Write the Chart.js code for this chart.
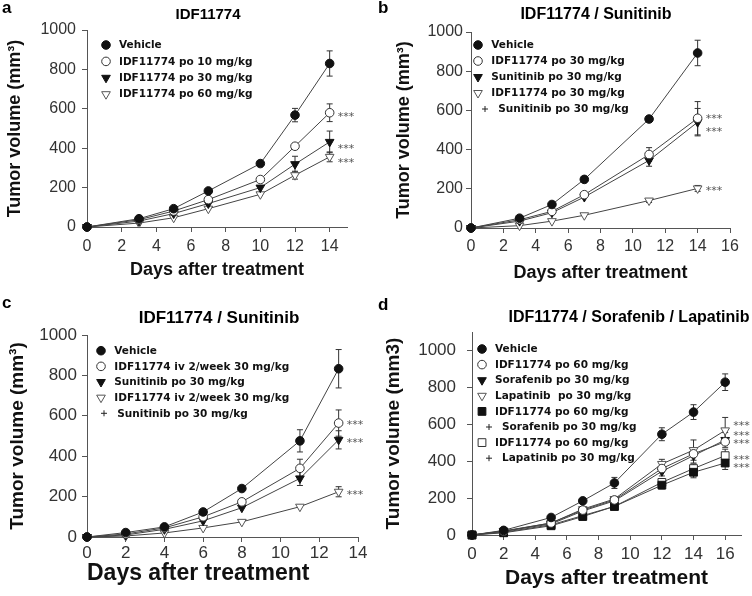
<!DOCTYPE html>
<html>
<head>
<meta charset="utf-8">
<script src="https://cdn.jsdelivr.net/npm/chart.js@4.4.1/dist/chart.umd.min.js"></script>
<style>
  body { margin: 0; background: #fff; }
  #grid { position: relative; width: 752px; height: 596px; }
  .panel { position: absolute; width: 376px; height: 298px; }
</style>
</head>
<body>
<div id="grid">
  <div class="panel" style="left:0;top:0"><canvas id="pa" width="376" height="298"></canvas></div>
  <div class="panel" style="left:376px;top:0"><canvas id="pb" width="376" height="298"></canvas></div>
  <div class="panel" style="left:0;top:298px"><canvas id="pc" width="376" height="298"></canvas></div>
  <div class="panel" style="left:376px;top:298px"><canvas id="pd" width="376" height="298"></canvas></div>
</div>
<script>
// ---- panel a: IDF11774 ----
const daysA = [0, 3, 5, 7, 10, 12, 14];
const vehicleA = [0, 42, 93, 183, 322, 568, 830];
const idf10A = [0, 37, 81, 139, 241, 410, 580];
const idf30A = [0, 30, 68, 119, 200, 319, 432];
const idf60A = [0, 20, 47, 93, 166, 263, 356];
const vehicleErrA = [0, 0, 0, 0, 0, 34, 64];
const idf10ErrA = [0, 0, 0, 0, 0, 0, 45];
const idf30ErrA = [0, 0, 0, 0, 0, 40, 55];
const idf60ErrA = [0, 0, 0, 0, 0, 20, 25];
const legendA = ['Vehicle', 'IDF11774 po 10 mg/kg', 'IDF11774 po 30 mg/kg', 'IDF11774 po 60 mg/kg'];
const starsA = [576, 412, 342];

// ---- panel b: IDF11774 / Sunitinib ----
const daysB = [0, 3, 5, 7, 11, 14];
const vehicleB = [0, 50, 120, 248, 556, 893];
const idfPoB = [0, 42, 85, 170, 375, 560];
const sunitinibB = [0, 35, 78, 158, 345, 540];
const comboB = [0, 12, 35, 65, 140, 202];
const vehicleErrB = [0, 0, 0, 0, 0, 65];
const idfPoErrB = [0, 0, 0, 0, 35, 85];
const sunitinibErrB = [0, 0, 0, 0, 30, 70];
const comboErrB = [0, 0, 0, 0, 10, 15];
const legendB = ['Vehicle', 'IDF11774 po 30 mg/kg', 'Sunitinib po 30 mg/kg', 'IDF11774 po 30 mg/kg', 'Sunitinib po 30 mg/kg'];
const starsB = [572, 508, 205];

// ---- panel c: IDF11774 iv / Sunitinib ----
const daysC = [0, 2, 4, 6, 8, 11, 13];
const vehicleC = [0, 22, 50, 124, 240, 476, 833];
const idfIvC = [0, 15, 45, 100, 174, 340, 564];
const sunitinibC = [0, 10, 38, 80, 145, 290, 481];
const comboC = [0, 5, 20, 45, 75, 150, 224];
const vehicleErrC = [0, 0, 0, 0, 0, 55, 95];
const idfIvErrC = [0, 0, 0, 0, 0, 45, 65];
const sunitinibErrC = [0, 0, 0, 0, 0, 35, 45];
const comboErrC = [0, 0, 0, 0, 0, 0, 25];
const legendC = ['Vehicle', 'IDF11774 iv 2/week 30 mg/kg', 'Sunitinib po 30 mg/kg', 'IDF11774 iv 2/week 30 mg/kg', 'Sunitinib po 30 mg/kg'];
const starsC = [572, 481, 224];

// ---- panel d: IDF11774 / Sorafenib / Lapatinib ----
const daysD = [0, 2, 5, 7, 9, 12, 14, 16];
const vehicleD = [0, 25, 95, 185, 282, 546, 666, 828];
const idf60D = [0, 20, 65, 135, 190, 360, 440, 505];
const sorafenibD = [0, 20, 60, 130, 185, 345, 430, 515];
const lapatinibD = [0, 22, 65, 140, 195, 385, 460, 567];
const idfSorD = [0, 12, 50, 100, 155, 270, 340, 390];
const idfLapD = [0, 15, 55, 105, 155, 285, 360, 430];
const vehicleErrD = [0, 0, 0, 0, 30, 35, 40, 45];
const idf60ErrD = [0, 0, 0, 0, 0, 0, 0, 0];
const sorafenibErrD = [0, 0, 0, 0, 0, 25, 40, 40];
const lapatinibErrD = [0, 0, 0, 0, 0, 25, 55, 70];
const idfSorErrD = [0, 0, 0, 0, 0, 20, 30, 35];
const idfLapErrD = [0, 0, 0, 0, 0, 20, 25, 35];
const legendD = ['Vehicle', 'IDF11774 po 60 mg/kg', 'Sorafenib po 30 mg/kg', 'Lapatinib  po 30 mg/kg', 'IDF11774 po 60 mg/kg',
                 'Sorafenib po 30 mg/kg', 'IDF11774 po 60 mg/kg', 'Lapatinib po 30 mg/kg'];
const starsD = [612, 558, 513, 427, 382];

const FONT = "'Liberation Sans', Arial, sans-serif";
const LEGEND_FONT = "bold 10.5px 'DejaVu Sans', Verdana, sans-serif";

// marker looks
const styles = {
  dot:     { pointStyle: 'circle',   radius: 4.3, rotation: 0,   fill: '#111', stroke: '#111' },
  ring:    { pointStyle: 'circle',   radius: 4.3, rotation: 0,   fill: '#fff', stroke: '#333' },
  triDown: { pointStyle: 'triangle', radius: 5,   rotation: 180, fill: '#111', stroke: '#111' },
  triOpen: { pointStyle: 'triangle', radius: 5,   rotation: 180, fill: '#fff', stroke: '#555' },
  square:  { pointStyle: 'rect',     radius: 5.5, rotation: 0,   fill: '#111', stroke: '#111' },
  box:     { pointStyle: 'rect',     radius: 5.5, rotation: 0,   fill: '#fff', stroke: '#333' },
  plus:    { pointStyle: 'cross',    radius: 3,   rotation: 0,   fill: '#222', stroke: '#222' }
};

const panels = [
  {
    id: 'pa', letter: 'a', title: 'IDF11774', titleSize: 15, titleX: 208, titleY: 15, letterY: 13,
    days: daysA, series: [vehicleA, idf10A, idf30A, idf60A],
    errs: [vehicleErrA, idf10ErrA, idf30ErrA, idf60ErrA],
    markers: ['dot', 'ring', 'triDown', 'triOpen'],
    legend: legendA, legendMarkers: ['dot', 'ring', 'triDown', 'triOpen'],
    stars: starsA,
    area: { L: 87, R: 347, T: 30, B: 227 }, xmax: 15, ymax: 1000,
    yTitle: 'Tumor volume (mm\u00b3)', yTitleSize: 18, yTitlePad: 4,
    xTitleSize: 18, xTitlePad: 17, xTitleAlign: 'center',
    tickSize: 16, yTickPad: 6, xTickPad: 5,
    leg: { dx: 19, dy: 15, row: 16.4, gap: 13, plusIndent: 0 }
  },
  {
    id: 'pb', letter: 'b', title: 'IDF11774 / Sunitinib', titleSize: 16, titleX: 220, titleY: 15, letterY: 13,
    days: daysB, series: [vehicleB, idfPoB, sunitinibB, comboB],
    errs: [vehicleErrB, idfPoErrB, sunitinibErrB, comboErrB],
    markers: ['dot', 'ring', 'triDown', 'triOpen'],
    legend: legendB, legendMarkers: ['dot', 'ring', 'triDown', 'triOpen', 'plus'],
    stars: starsB,
    area: { L: 95, R: 354, T: 32, B: 228 }, xmax: 16, ymax: 1000,
    yTitle: 'Tumor volume (mm\u00b3)', yTitleSize: 18, yTitlePad: 17.7,
    xTitleSize: 18, xTitlePad: 14, xTitleAlign: 'center',
    tickSize: 16, yTickPad: 3, xTickPad: 4,
    leg: { dx: 7, dy: 13, row: 16, gap: 13.3, plusIndent: 7 }
  },
  {
    id: 'pc', letter: 'c', title: 'IDF11774 / Sunitinib', titleSize: 17, titleX: 219, titleY: 20, letterY: 10,
    days: daysC, series: [vehicleC, idfIvC, sunitinibC, comboC],
    errs: [vehicleErrC, idfIvErrC, sunitinibErrC, comboErrC],
    markers: ['dot', 'ring', 'triDown', 'triOpen'],
    legend: legendC, legendMarkers: ['dot', 'ring', 'triDown', 'triOpen', 'plus'],
    stars: starsC,
    area: { L: 87, R: 358, T: 37, B: 239 }, xmax: 14, ymax: 1000,
    yTitle: 'Tumor volume (mm\u00b3)', yTitleSize: 19, yTitlePad: 6,
    xTitleSize: 23, xTitlePad: 9, xTitleAlign: 'start',
    tickSize: 17, yTickPad: 5, xTickPad: 1,
    leg: { dx: 14, dy: 15.7, row: 15.65, gap: 13.3, plusIndent: 3 }
  },
  {
    id: 'pd', letter: 'd', title: 'IDF11774 / Sorafenib / Lapatinib', titleSize: 16, titleX: 253, titleY: 20, letterY: 12,
    days: daysD, series: [vehicleD, idf60D, sorafenibD, lapatinibD, idfSorD, idfLapD],
    errs: [vehicleErrD, idf60ErrD, sorafenibErrD, lapatinibErrD, idfSorErrD, idfLapErrD],
    markers: ['dot', 'ring', 'triDown', 'triOpen', 'square', 'box'],
    legend: legendD, legendMarkers: ['dot', 'ring', 'triDown', 'triOpen', 'square', 'plus', 'box', 'plus'],
    stars: starsD,
    area: { L: 96, R: 365, T: 34, B: 237 }, xmax: 17, ymax: 1100,
    yTitle: 'Tumor volume (mm3)', yTitleSize: 19, yTitlePad: 6,
    xTitleSize: 21, xTitlePad: 5, xTitleAlign: 'center',
    tickSize: 17, yTickPad: 11, xTickPad: 4,
    leg: { dx: 10, dy: 17, row: 15.6, gap: 13, plusIndent: 7 }
  }
];

function drawMarker(ctx, st, x, y) {
  ctx.fillStyle = st.fill;
  ctx.strokeStyle = st.stroke;
  ctx.lineWidth = 1;
  Chart.helpers.drawPoint(ctx, { pointStyle: st.pointStyle, radius: st.radius, rotation: st.rotation, borderWidth: 1 }, x, y);
}

// letter, title, in-plot legend, error bars and significance stars
function makeDecor(p) {
  return {
    id: 'decor',
    beforeDatasetsDraw(chart) {
      const { ctx, scales: { x, y } } = chart;
      ctx.save();
      ctx.strokeStyle = '#333';
      ctx.lineWidth = 1;
      chart.data.datasets.forEach(ds => {
        ds.data.forEach((pt, j) => {
          const e = ds.errors[j];
          if (!e) return;
          const px = x.getPixelForValue(pt.x);
          const top = y.getPixelForValue(pt.y + e);
          const bot = y.getPixelForValue(pt.y - e);
          ctx.beginPath();
          ctx.moveTo(px, top); ctx.lineTo(px, bot);
          ctx.moveTo(px - 3, top); ctx.lineTo(px + 3, top);
          ctx.moveTo(px - 3, bot); ctx.lineTo(px + 3, bot);
          ctx.stroke();
        });
      });
      ctx.restore();
    },
    afterDraw(chart) {
      const { ctx, chartArea: area, scales: { x, y } } = chart;
      ctx.save();
      // panel letter
      ctx.fillStyle = '#000';
      ctx.font = 'bold 17px ' + FONT;
      ctx.textAlign = 'left';
      ctx.textBaseline = 'alphabetic';
      ctx.fillText(p.letter, 2, p.letterY);
      // title
      ctx.font = 'bold ' + p.titleSize + 'px ' + FONT;
      ctx.textAlign = 'center';
      ctx.textBaseline = 'middle';
      ctx.fillText(p.title, p.titleX, p.titleY);
      // legend
      ctx.font = LEGEND_FONT;
      ctx.textAlign = 'left';
      p.legend.forEach((txt, i) => {
        const key = p.legendMarkers[i];
        const ind = key === 'plus' ? p.leg.plusIndent : 0;
        const lx = area.left + p.leg.dx + ind;
        const ly = area.top + p.leg.dy + i * p.leg.row;
        drawMarker(ctx, styles[key], lx, ly);
        ctx.fillStyle = '#111';
        ctx.fillText(txt, lx + p.leg.gap, ly + 0.5);
      });
      // *** beside the last day
      const lastDay = p.days[p.days.length - 1];
      ctx.font = "11px 'DejaVu Sans', sans-serif";
      ctx.fillStyle = '#555';
      ctx.textBaseline = 'alphabetic';
      p.stars.forEach(v => {
        ctx.fillText('***', x.getPixelForValue(lastDay) + 8, y.getPixelForValue(v) + 6.5);
      });
      ctx.restore();
    }
  };
}

panels.forEach(p => {
  const a = p.area;
  const datasets = p.series.map((vals, i) => {
    const st = styles[p.markers[i]];
    return {
      data: vals.map((v, j) => ({ x: p.days[j], y: v })),
      errors: p.errs[i],
      borderColor: '#444',
      borderWidth: 1,
      tension: 0,
      clip: false,
      pointStyle: st.pointStyle,
      pointRadius: st.radius,
      pointRotation: st.rotation,
      pointBackgroundColor: st.fill,
      pointBorderColor: st.stroke,
      pointBorderWidth: 1
    };
  });

  new Chart(document.getElementById(p.id), {
    type: 'line',
    data: { datasets },
    plugins: [makeDecor(p)],
    options: {
      responsive: false,
      animation: false,
      events: [],
      layout: { padding: { left: 0, top: a.T, right: 376 - a.R, bottom: 0 } },
      plugins: { legend: { display: false }, tooltip: { enabled: false } },
      scales: {
        x: {
          type: 'linear', min: 0, max: p.xmax,
          afterFit(s) { s.height = 298 - a.B; },
          ticks: { stepSize: 2, includeBounds: false, padding: p.xTickPad, color: '#333',
                   font: { family: FONT, size: p.tickSize }, callback: v => String(v) },
          grid: { drawOnChartArea: false, tickLength: 5, color: '#555' },
          border: { color: '#555', width: 1 },
          title: { display: true, text: 'Days after treatment', align: p.xTitleAlign, color: '#111',
                   font: { family: FONT, size: p.xTitleSize, weight: 'bold' }, padding: { top: 0, bottom: p.xTitlePad } }
        },
        y: {
          min: 0, max: p.ymax,
          afterFit(s) { s.width = a.L; },
          ticks: { stepSize: 200, includeBounds: false, padding: p.yTickPad, color: '#333',
                   font: { family: FONT, size: p.tickSize }, callback: v => String(v) },
          grid: { drawOnChartArea: false, tickLength: 5, color: '#555' },
          border: { color: '#555', width: 1 },
          title: { display: true, text: p.yTitle, color: '#111',
                   font: { family: FONT, size: p.yTitleSize, weight: 'bold' }, padding: { top: p.yTitlePad, bottom: 0 } }
        }
      }
    }
  });
});
</script>
</body>
</html>
